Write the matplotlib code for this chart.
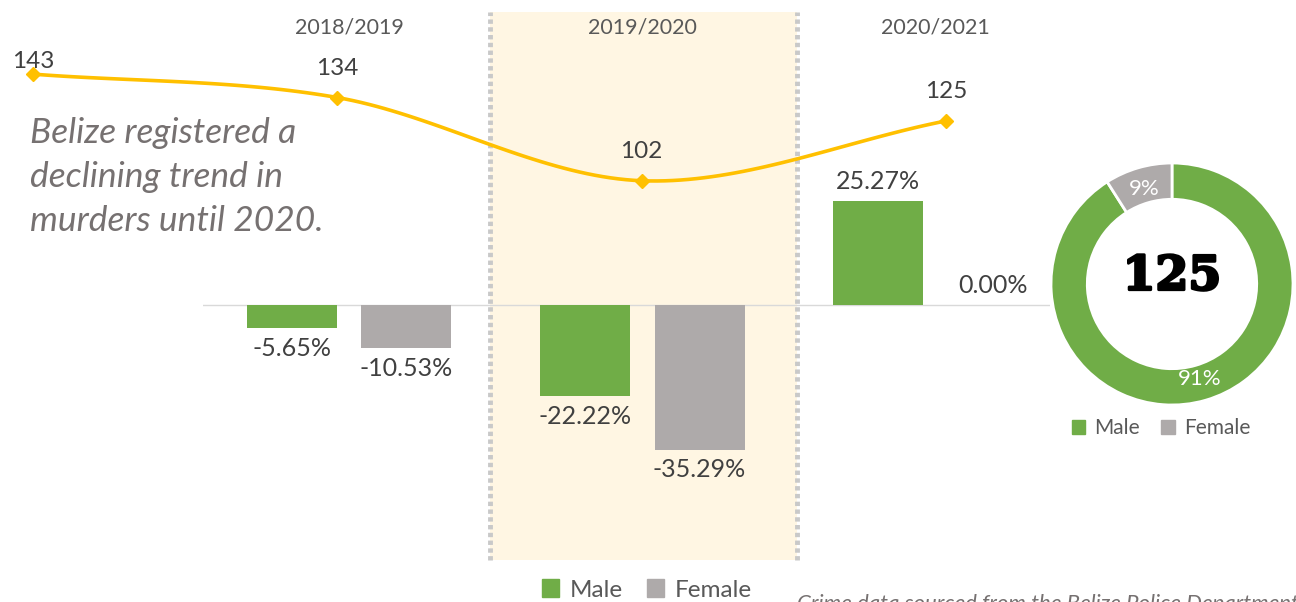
import numpy as np
import matplotlib
matplotlib.use("Agg")
import matplotlib.pyplot as plt
import matplotlib.patheffects as pe
from matplotlib.patches import Patch

plt.rcParams['font.family'] = ['Lato', 'DejaVu Sans']

# data
periods = ["2018/2019", "2019/2020", "2020/2021"]
male_change = [-5.65, -22.22, 25.27]
female_change = [-10.53, -35.29, 0.00]

murders = [143, 134, 102, 125]

donut_labels = ["Male", "Female"]
donut_share = [91, 9]
donut_total = 125

green = "#70AD47"
grey = "#AEAAAA"
gold = "#FFC000"
txt = "#404040"

W, H = 1296, 602
fig = plt.figure(figsize=(W / 100, H / 100), dpi=100)

# bar chart (% change by sex)
ax = fig.add_axes([203 / W, 0, 847 / W, 1])
ax.axis("off")
ax.set_xlim(-0.498, 2.39)
ax.set_ylim(-72.4, 74.4)

ax.axvspan(0.481, 1.526, ymin=0.07, ymax=0.98, color="#FFF6E3", zorder=0, lw=0)
for xv in (0.481, 1.526):
    ax.plot([xv, xv], [-62.2, 71.5], color="#C9C9C9", lw=3.5,
            dashes=(0.9, 0.7), zorder=1)
ax.axhline(0, color="#D9D9D9", lw=1, zorder=1)

x = np.arange(len(periods))
bw, off = 0.307, 0.195
b1 = ax.bar(x - off, male_change, bw, color=green, zorder=2)
b2 = ax.bar(x + off, female_change, bw, color=grey, zorder=2)
ax.bar_label(b1, fmt="%.2f%%", padding=6, fontsize=18, color=txt)
ax.bar_label(b2, fmt="%.2f%%", padding=6, fontsize=18, color=txt)

for i, p in enumerate(periods):
    ax.text(i, 1 - 27 / H, p, transform=ax.get_xaxis_transform(),
            ha="center", va="center", fontsize=15.5, color="#595959")

# murder totals line
lx = fig.add_axes([0, 0, 1, 1], zorder=3)
lx.patch.set_visible(False)
lx.axis("off")
lx.set_xlim(-0.108, 4.15)
lx.set_ylim(-60, 171.5)

xi = np.arange(len(murders))
pts = np.column_stack([xi, murders]).astype(float)
P = np.vstack([2 * pts[0] - pts[1], pts, 2 * pts[-1] - pts[-2]])
curve = []
for k in range(1, len(P) - 2):
    p0, p1, p2, p3 = P[k - 1], P[k], P[k + 1], P[k + 2]
    for t in np.linspace(0, 1, 40):
        curve.append(0.5 * (2 * p1 + (-p0 + p2) * t
                            + (2 * p0 - 5 * p1 + 4 * p2 - p3) * t ** 2
                            + (-p0 + 3 * p1 - 3 * p2 + p3) * t ** 3))
curve = np.array(curve)
lx.plot(curve[:, 0], curve[:, 1], color=gold, lw=2.6, solid_capstyle="round")
lx.plot(xi, murders, "D", color=gold, ms=7.5)
for i, v in enumerate(murders):
    dy = 9 if i == 0 else 21
    lx.annotate(str(v), (i, v), xytext=(0, dy), textcoords="offset points",
                ha="center", va="center", fontsize=17.5, color=txt)

fig.text(30 / W, 1 - 117 / H,
         "Belize registered a\ndeclining trend in\nmurders until 2020.",
         ha="left", va="top", fontsize=25.5, style="italic", color="#767171",
         linespacing=1.47)

fig.legend(handles=[Patch(color=green, label="Male"), Patch(color=grey, label="Female")],
           loc="center", bbox_to_anchor=(647 / W, 1 - 590 / H), ncol=2, frameon=False,
           fontsize=17.5, handlelength=0.7, handleheight=0.7, columnspacing=1.0,
           handletextpad=0.45, labelcolor="#595959")

fig.text(797 / W, 1 - 594 / H, "Crime data sourced from the Belize Police Department",
         ha="left", va="top", fontsize=16, style="italic", color="#767171")

# donut for 2020/2021
r = 121
dx = fig.add_axes([(1172 - r) / W, 1 - (284 + r) / H, 2 * r / W, 2 * r / H], zorder=4)
wedges, _, autot = dx.pie(donut_share, colors=[green, grey], startangle=90,
                          counterclock=False, radius=1, autopct="%d%%",
                          pctdistance=0.82,
                          wedgeprops=dict(width=0.3, edgecolor="white", linewidth=2),
                          textprops=dict(color="white", fontsize=16))
dx.set_xlim(-1, 1)
dx.set_ylim(-1, 1)
dx.text(0, 0.06, str(donut_total), ha="center", va="center", fontsize=34,
        fontweight="heavy", family="DejaVu Serif", color="black",
        path_effects=[pe.withStroke(linewidth=2, foreground="black")])

fig.legend(handles=[Patch(color=green, label="Male"), Patch(color=grey, label="Female")],
           loc="center", bbox_to_anchor=(1161 / W, 1 - 428 / H), ncol=2, frameon=False,
           fontsize=15, handlelength=0.65, handleheight=0.65, columnspacing=1.0,
           handletextpad=0.45, labelcolor="#595959")

fig.savefig("out.png", dpi=100)
